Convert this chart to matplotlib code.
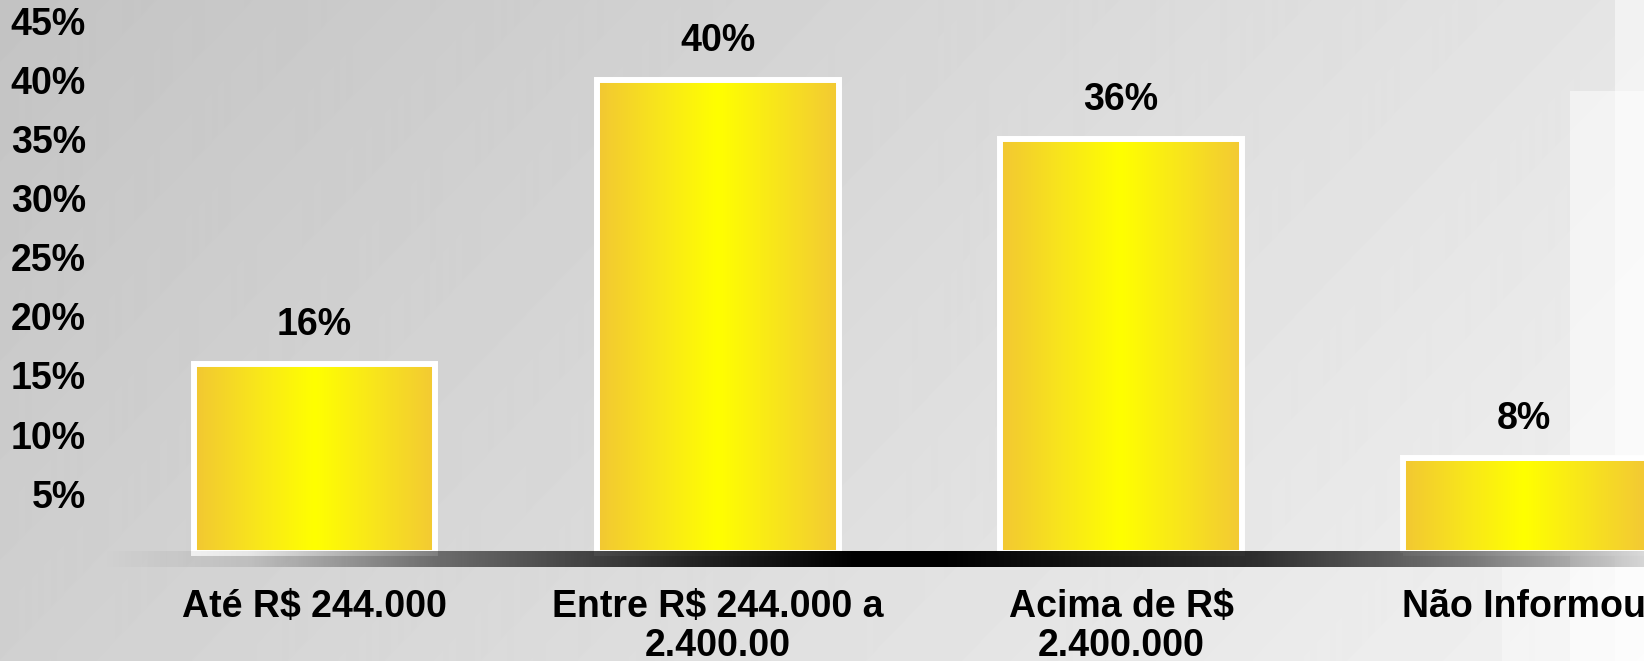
import numpy as np
import matplotlib
matplotlib.use("Agg")
import matplotlib.pyplot as plt
from matplotlib.colors import LinearSegmentedColormap
from matplotlib.patches import Rectangle

plt.rcParams['font.family'] = ['Liberation Sans', 'DejaVu Sans']
plt.rcParams['font.weight'] = 'bold'

categories = ['Até R$ 244.000', 'Entre R$ 244.000 a\n2.400.00', 'Acima de R$\n2.400.000', 'Não Informou']
values = [16, 40, 35, 8]
value_labels = ['16%', '40%', '36%', '8%']
yticks = [5, 10, 15, 20, 25, 30, 35, 40, 45]

W, H = 1644, 661
fig = plt.figure(figsize=(W / 100, H / 100), dpi=100)

# grey diagonal background like the slide template
bg = fig.add_axes([0, 0, 1, 1], zorder=0)
xx, yy = np.meshgrid(np.arange(W), np.arange(H))
shade = 195 + 0.0207 * xx + 0.02 * yy
bg.imshow(shade, cmap='gray', vmin=0, vmax=255, extent=[0, W, H, 0], aspect='auto')
bg.add_patch(Rectangle((1502, 567), 142, 94, color='white', alpha=0.35, lw=0))
bg.add_patch(Rectangle((1570, 91), 74, 570, color='white', alpha=0.5, lw=0))
bg.add_patch(Rectangle((1615, 0), 29, 661, color='white', alpha=0.5, lw=0))
bg.set_xlim(0, W)
bg.set_ylim(H, 0)
bg.axis('off')

ax = fig.add_axes([100 / W, (H - 567) / H, 1544 / W, 567 / H], zorder=1)
ax.patch.set_alpha(0)

x = np.arange(len(categories))
bars = ax.bar(x, values, width=0.6, color='none', edgecolor='white', linewidth=4.3, zorder=3)

gold = LinearSegmentedColormap.from_list('gold', ['#f2c733', '#f8e51c', '#ffff00', '#f8e51c', '#f3c934'])
grad = np.linspace(0, 1, 256).reshape(1, -1)
for b in bars:
    bx, by = b.get_x(), b.get_y()
    im = ax.imshow(grad, cmap=gold, aspect='auto', zorder=2,
                   extent=[bx, bx + b.get_width(), by, by + b.get_height()])
    im.set_clip_path(b)

for xi, v, lab in zip(x, values, value_labels):
    ax.annotate(lab, (xi, v), xytext=(0, 28), textcoords='offset points',
                ha='center', va='center', fontsize=27, fontweight='bold')

xlim = (-0.532, 3.297)
ylim = (-1.2, 46.75)

# dark fading "floor" under the bars
t_px = np.array([100, 250, 435, 700, 850, 950, 1258, 1468, 1644])
a_px = np.array([0.0, 0.1, 0.5, 0.85, 1.0, 1.0, 0.8, 0.5, 0.15])
cols = np.linspace(100, 1644, 600)
band = np.zeros((1, 600, 4))
band[0, :, 3] = np.interp(cols, t_px, a_px)
ax.imshow(band, aspect='auto', zorder=4, extent=[xlim[0], xlim[1], -1.2, 0.1])

ax.set_xlim(*xlim)
ax.set_ylim(*ylim)
ax.set_yticks(yticks)
ax.set_yticklabels([f'{t}%' for t in yticks], fontsize=27, fontweight='bold')
ax.set_xticks(x)
ax.set_xticklabels(categories, fontsize=27, fontweight='bold', linespacing=1.1)
ax.tick_params(axis='y', length=0, pad=10)
ax.tick_params(axis='x', length=0, pad=16)
for s in ax.spines.values():
    s.set_visible(False)

fig.savefig('out.png', dpi=100)
